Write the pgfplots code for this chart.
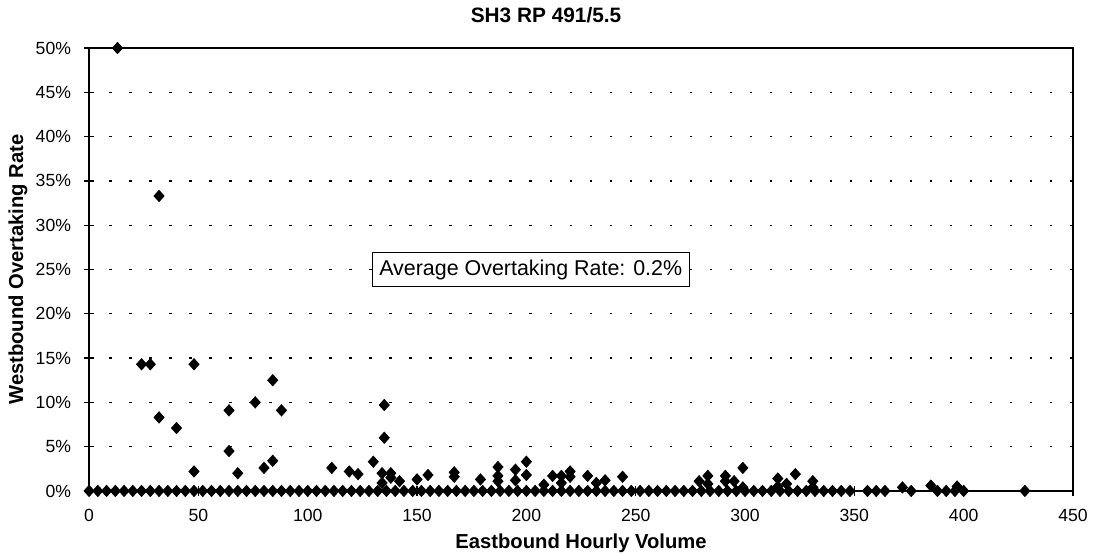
\documentclass[border=0pt]{standalone}
\usepackage{pgfplots}
\pgfplotsset{compat=1.18}
\usepackage{fontspec}
\setmainfont{Liberation Sans}

% hourly points with no westbound overtaking
\pgfplotstableread{
x y
0 0
4 0
8 0
12 0
16 0
20 0
24 0
28 0
32 0
36 0
40 0
44 0
48 0
52 0
56 0
60 0
64 0
68 0
72 0
76 0
80 0
84 0
88 0
92 0
96 0
100 0
104 0
108 0
112 0
116 0
120 0
124 0
128 0
132 0
136 0
140 0
144 0
148 0
152 0
156 0
160 0
164 0
168 0
172 0
176 0
180 0
184 0
188 0
192 0
196 0
200 0
204 0
208 0
212 0
216 0
220 0
224 0
228 0
232 0
236 0
240 0
244 0
248 0
252 0
256 0
260 0
264 0
268 0
272 0
276 0
280 0
284 0
288 0
292 0
296 0
300 0
304 0
308 0
312 0
316 0
320 0
324 0
328 0
332 0
336 0
340 0
344 0
348 0
356 0
360 0
364 0
376 0
388 0
392 0
396 0
400 0
428 0
}\zerotab

% hourly points with some overtaking (percent)
\pgfplotstableread{
x y
13 50
32 33.3
24 14.3
28 14.3
48 14.3
84 12.5
76 10
64 9.1
88 9.1
32 8.3
40 7.1
64 4.5
84 3.4
80 2.6
48 2.2
68 2.0
111 2.6
119 2.2
123 1.9
130 3.3
135 9.7
135 6.0
134 2.0
134 0.9
138 2.0
138 1.5
142 1.1
150 1.3
155 1.8
167 2.1
167 1.6
179 1.3
187 2.7
187 1.7
187 1.1
195 2.4
195 1.2
200 3.3
200 1.8
208 0.7
212 1.7
216 1.7
216 0.9
220 2.2
220 1.6
228 1.7
232 0.9
236 1.2
244 1.6
279 1.1
283 1.7
283 0.8
291 1.7
291 1.1
295 1.1
299 2.6
299 0.4
315 1.4
315 0.5
319 0.8
323 1.9
331 1.1
331 0.4
372 0.4
385 0.6
397 0.5
}\ratetab

\begin{document}
\begin{tikzpicture}
\begin{axis}[
  scale only axis,
  width=491.5pt, height=221.25pt,
  xmin=0, xmax=450, ymin=0, ymax=50,
  clip=false,
  axis line style={black, line width=0.9pt},
  xtick={0,50,...,450},
  xticklabels={0,50,100,150,200,250,300,350,400,450},
  ytick={0,5,...,50},
  yticklabels={0\%,5\%,10\%,15\%,20\%,25\%,30\%,35\%,40\%,45\%,50\%},
  tick align=center,
  major tick length=5pt,
  tick style={black, line width=0.6pt},
  xtick pos=bottom, ytick pos=left,
  ticklabel style={font=\fontsize{8.8}{10}\selectfont, black},
  xticklabel style={yshift=-3pt},
  yticklabel style={xshift=-3pt},
  ymajorgrids,
  grid style={black, line width=0.6pt, dash pattern=on 1.2pt off 8.8pt},
  xlabel={Eastbound Hourly Volume},
  ylabel={Westbound Overtaking Rate},
  label style={font=\fontsize{10.1}{12}\selectfont\bfseries},
  xlabel style={at={(axis description cs:0.5,-0.1175)}, anchor=center},
  ylabel style={at={(axis description cs:-0.0722,0.5)}, anchor=center},
]
\coordinate (sw) at (rel axis cs:0,0);
\coordinate (ne) at (rel axis cs:1,1);
\addplot[only marks, mark=diamond*, mark size=2.8pt,
  mark options={fill=black, draw=black, xscale=1.2}] table {\zerotab};
\addplot[only marks, mark=diamond*, mark size=2.8pt,
  mark options={fill=black, draw=black, xscale=1.2}] table {\ratetab};
\node[draw=black, line width=0.6pt, fill=white, inner xsep=3.5pt,
  minimum height=16pt, font=\fontsize{10.7}{12}\selectfont]
  at (axis cs:202,25) {Average Overtaking Rate: 0.2\%};
\node[font=\fontsize{10.4}{12}\selectfont\bfseries, anchor=center]
  at ([yshift=16.5pt]axis cs:209,50) {SH3 RP 491/5.5};
\end{axis}
\pgfresetboundingbox
\path ([shift={(-44.5pt,-31.5pt)}]sw) rectangle ([shift={(11pt,24pt)}]ne);
\end{tikzpicture}
\end{document}
